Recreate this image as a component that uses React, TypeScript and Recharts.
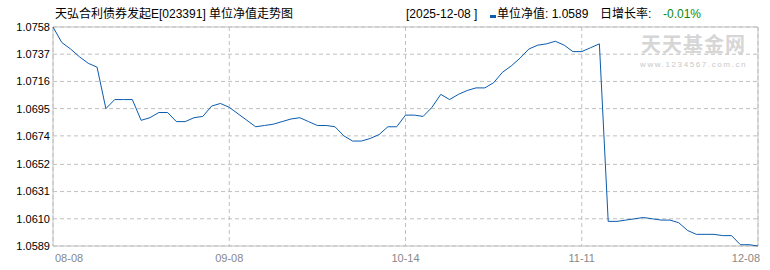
import { LineChart, Line, XAxis, YAxis, CartesianGrid, ReferenceArea } from 'recharts'

const fundTitle = '天弘合利债券发起E[023391] 单位净值走势图'
const lastDate = '2025-12-08'
const lastNav = '1.0589'
const lastChange = '-0.01%'

// unit NAV, one point per trading day from 08-08 to 12-08
const navValues = [
  1.0758, 1.0746, 1.0741, 1.0735, 1.073, 1.0727, 1.0695, 1.0702, 1.0702, 1.0702,
  1.0686, 1.0688, 1.0692, 1.0692, 1.0685, 1.0685, 1.0688, 1.0689, 1.0697, 1.0699,
  1.0696, 1.0691, 1.0686, 1.0681, 1.0682, 1.0683, 1.0685, 1.0687, 1.0688, 1.0685,
  1.0682, 1.0682, 1.0681, 1.0674, 1.067, 1.067, 1.0672, 1.0675, 1.0681, 1.0681,
  1.069, 1.069, 1.0689, 1.0696, 1.0706, 1.0702, 1.0706, 1.0709, 1.0711, 1.0711,
  1.0715, 1.0723, 1.0728, 1.0734, 1.0741, 1.0744, 1.0745, 1.0747, 1.0744, 1.0739,
  1.0739, 1.0742, 1.0745, 1.0608, 1.0608, 1.0609, 1.061, 1.0611, 1.061, 1.0609,
  1.0609, 1.0607, 1.0601, 1.0598, 1.0598, 1.0598, 1.0597, 1.0597, 1.059, 1.059,
  1.0589,
]

const xTicks = [0, 20, 40, 60, 80]
const xTickLabels = ['08-08', '09-08', '10-14', '11-11', '12-08']
const yTicks = [1.0589, 1.061, 1.0631, 1.0652, 1.0674, 1.0695, 1.0716, 1.0737, 1.0758]

const data = navValues.map((nav, i) => ({ i, nav }))

const GRID = '#c0c0c0'
const font = "'Liberation Sans', 'Noto Sans CJK SC', sans-serif"

const XTick = (props: any) => {
  const { x, y, payload, index } = props
  const last = xTicks.length - 1
  const anchor = index === 0 ? 'start' : index === last ? 'end' : 'middle'
  return (
    <text
      x={index === 0 || index === last ? x + 2 : x}
      y={y}
      dy={14}
      textAnchor={anchor}
      fill="#888"
      fontSize={11}
      fontFamily={font}
    >
      {xTickLabels[xTicks.indexOf(payload.value)]}
    </text>
  )
}

export default function App() {
  return (
    <div
      style={{
        position: 'fixed',
        left: 0,
        top: 0,
        width: 770,
        height: 270,
        background: '#fff',
        fontFamily: font,
      }}
    >
      <div style={{ position: 'absolute', left: 55, top: 7, fontSize: 12, lineHeight: '14px', color: '#000' }}>
        {fundTitle}
      </div>
      <div style={{ position: 'absolute', left: 406, top: 7, fontSize: 12, lineHeight: '14px', color: '#000', whiteSpace: 'pre' }}>
        [{lastDate} ]
      </div>
      <div style={{ position: 'absolute', left: 490, top: 15, width: 6, height: 3, background: '#0b5bad' }} />
      <div style={{ position: 'absolute', left: 497, top: 7, fontSize: 12, lineHeight: '14px', color: '#000' }}>
        单位净值: {lastNav}
      </div>
      <div style={{ position: 'absolute', left: 600, top: 7, fontSize: 12, lineHeight: '14px', color: '#000' }}>
        日增长率:
      </div>
      <div style={{ position: 'absolute', left: 663, top: 7, fontSize: 12, lineHeight: '14px', color: '#0a8a0a' }}>
        {lastChange}
      </div>
      <div
        style={{
          position: 'absolute',
          left: 641,
          top: 34,
          fontSize: 20,
          lineHeight: '20px',
          letterSpacing: 1,
          fontWeight: 700,
          color: '#d6d6d6',
          fontFamily: "'Noto Sans CJK SC', sans-serif",
        }}
      >
        天天基金网
      </div>
      <div
        style={{
          position: 'absolute',
          left: 640,
          top: 61,
          fontSize: 8,
          lineHeight: '8px',
          letterSpacing: 1.6,
          color: '#c8c8c8',
        }}
      >
        www.1234567.com.cn
      </div>
      <div style={{ position: 'absolute', left: 0, top: 0 }}>
        <LineChart width={770} height={270} data={data} margin={{ top: 27, right: 12, bottom: 0, left: 0 }}>
          <CartesianGrid stroke={GRID} strokeDasharray="4 3" />
          <XAxis
            dataKey="i"
            type="number"
            domain={[0, 80]}
            ticks={xTicks}
            height={24}
            tickLine={false}
            axisLine={false}
            tickSize={0}
            tick={<XTick />}
            interval={0}
          />
          <YAxis
            type="number"
            domain={[1.0589, 1.0758]}
            ticks={yTicks}
            width={53}
            tickLine={false}
            axisLine={false}
            tickSize={0}
            tickMargin={3}
            interval={0}
            tickFormatter={(v: number) => v.toFixed(4)}
            tick={{ fontSize: 11, fill: '#000', fontFamily: font }}
          />
          <ReferenceArea x1={0} x2={80} y1={1.0589} y2={1.0758} fill="none" stroke={GRID} strokeWidth={1} />
          <Line
            type="linear"
            dataKey="nav"
            stroke="#0b5bad"
            strokeWidth={1}
            dot={false}
            isAnimationActive={false}
          />
        </LineChart>
      </div>
    </div>
  )
}
